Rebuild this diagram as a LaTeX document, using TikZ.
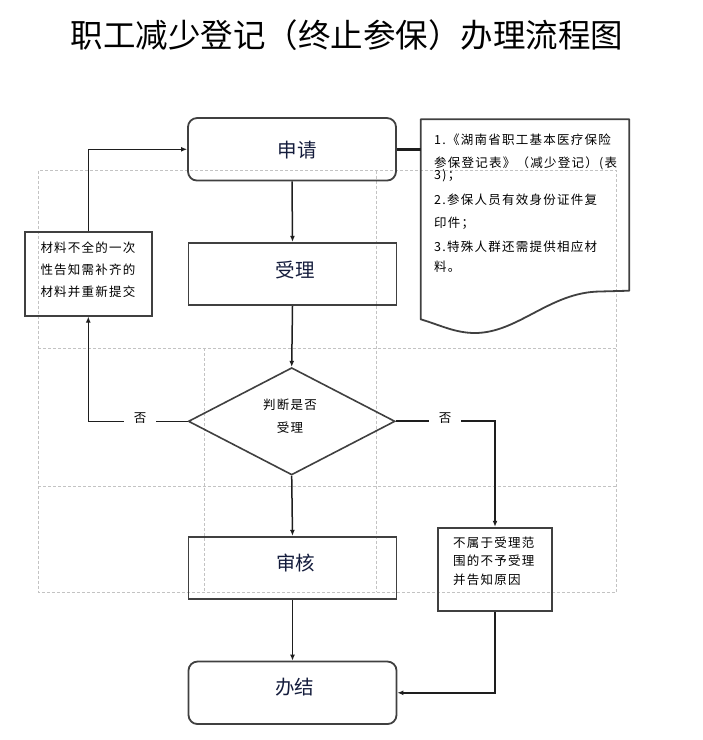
\documentclass[tikz,border=0pt]{standalone}
\usepackage{fontspec}
\newfontfamily\cjk{Noto Sans CJK SC}
\newfontfamily\cjks[LetterSpace=10]{Noto Sans CJK SC}
\usetikzlibrary{arrows.meta,shapes.geometric}
\definecolor{boxline}{RGB}{64,64,64}
\definecolor{gridc}{RGB}{195,195,195}
\definecolor{maintxt}{RGB}{20,28,60}
\definecolor{connc}{RGB}{30,30,30}
\begin{document}
\begin{tikzpicture}[x=1pt,y=-1pt,
  mainbox/.style={draw=boxline,line width=1.8pt,minimum width=208pt,minimum height=62.5pt,inner sep=0pt},
  roundbox/.style={mainbox,rounded corners=9pt},
  smallbox/.style={draw=boxline,line width=1.8pt,inner sep=0pt},
  decbox/.style={diamond,draw=boxline,line width=1.6pt,inner sep=0pt,minimum width=206.7pt,minimum height=107.3pt},
  maintext/.style={inner sep=0pt,text=maintxt,font=\cjk\fontsize{19.5}{22}\selectfont},
  smalltext/.style={inner sep=0pt,font=\cjks\fontsize{12.5}{22}\selectfont},
  conn/.style={draw=connc,line width=1.5pt,-{Latex[length=6pt,width=5pt]}},
  thickconn/.style={draw=connc,line width=2pt,-{Latex[length=6pt,width=5pt]}},
  gridline/.style={draw=gridc,line width=0.8pt,dash pattern=on 3pt off 2pt},
  nolabel/.style={fill=white,inner xsep=10pt,inner ysep=3pt,font=\cjks\fontsize{12.5}{14}\selectfont},
]
\useasboundingbox (0,0) rectangle (703,740);

% title
\node[inner sep=0pt,font=\cjk\fontsize{32.5}{36}\selectfont] (title) at (347,35) {职工减少登记（终止参保）办理流程图};

% dashed grid
\draw[gridline] (38.3,170.5) rectangle (616.5,592);
\draw[gridline] (38.3,348.3) -- (616.5,348.3);
\draw[gridline] (38.3,486) -- (616.5,486);
\draw[gridline] (376.7,170.5) -- (376.7,592);
\draw[gridline] (204.3,348.3) -- (204.3,592);

% main boxes
\node[roundbox] (apply) at (292,149.3) {};
\node[maintext] (applyt) at (297,150) {申请};
\node[mainbox] (accept) at (292.5,274) {};
\node[maintext] (acceptt) at (295,270) {受理};
\node[decbox] (dec) at (291.7,421.3) {};
\node[smalltext,align=center,font=\cjks\fontsize{12.5}{23}\selectfont] (dect) at (290,416.5) {判断是否\\受理};
\node[mainbox] (audit) at (292.5,568) {};
\node[maintext] (auditt) at (295.5,563) {审核};
\node[roundbox] (finish) at (292.5,692.8) {};
\node[maintext] (finisht) at (294.5,686.7) {办结};

% side boxes
\node[smallbox,minimum width=126.7pt,minimum height=84pt] (lbox) at (88.3,273.7) {};
\node[smalltext,align=left] (lboxt) at (88,269.3) {材料不全的一次\\性告知需补齐的\\材料并重新提交};
\node[smallbox,minimum width=113.4pt,minimum height=83.3pt] (rbox) at (495,569.3) {};
\node[smalltext,align=left,anchor=west,font=\cjks\fontsize{12.5}{18.5}\selectfont] (rboxt) at (453,560.8) {不属于受理范\\围的不予受理\\并告知原因};

% document shape
\draw[draw=boxline,line width=1.8pt,line join=round]
  (420.7,319.3) -- (420.7,119.3) -- (629.3,119.3) -- (629.3,290.7) -- (600,291.5)
  .. controls (550,292) and (518,333) .. (475,333)
  .. controls (455,333) and (440,325) .. (420.7,319.3) -- cycle;
\coordinate (docL) at (420.7,149.3);
\node[smalltext,anchor=west] (doc1) at (434,139.3) {1.《湖南省职工基本医疗保险};
\node[smalltext,anchor=west] (doc2) at (434,163.3) {参保登记表》（减少登记）(表};
\node[smalltext,anchor=west] (doc3) at (434,176) {3)；};
\node[smalltext,anchor=west] (doc4) at (434,199.3) {2.参保人员有效身份证件复};
\node[smalltext,anchor=west] (doc5) at (434,223.3) {印件；};
\node[smalltext,anchor=west] (doc6) at (434,246.7) {3.特殊人群还需提供相应材};
\node[smalltext,anchor=west] (doc7) at (434,266.7) {料。};

% connectors
\draw[draw=connc,line width=3pt] (apply.east) -- (docL);
\draw[conn] (apply.south) -- (accept.north);
\draw[conn] (accept.south) -- (dec.north);
\draw[conn] (dec.south) -- (audit.north);
\draw[conn] (audit.south) -- (finish.north);
\draw[conn] (lbox.north) |- (apply.west);
\draw[conn] (dec.west) -| (lbox.south);
\draw[thickconn] (dec.east) -| (rbox.north);
\draw[thickconn] (rbox.south) |- (finish.east);

% labels
\node[nolabel] (no1) at (140,418.5) {否};
\node[nolabel] (no2) at (445,418.5) {否};
\end{tikzpicture}
\end{document}
